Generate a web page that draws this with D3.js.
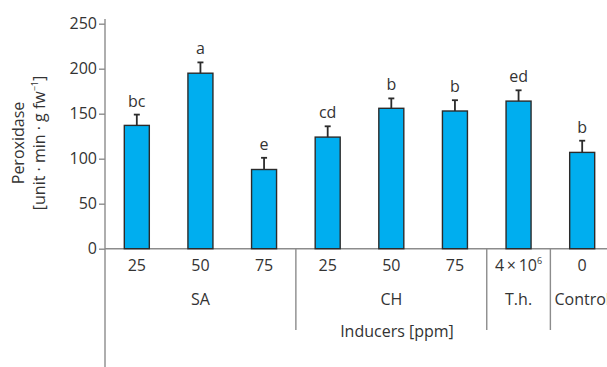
<!DOCTYPE html>
<html>
<head>
<meta charset="utf-8">
<script src="https://cdn.jsdelivr.net/npm/d3@7"></script>
<style>
  html, body { margin: 0; padding: 0; background: #fff; }
  svg { display: block; }
  text { font-family: "Open Sans", "Noto Sans", sans-serif; fill: #333; }
</style>
</head>
<body>
<svg id="chart" width="607" height="367"></svg>
<script>
// Peroxidase activity for each inducer treatment
const categories = ["SA 25", "SA 50", "SA 75", "CH 25", "CH 50", "CH 75", "T.h.", "Control"];
const doseLabels = ["25", "50", "75", "25", "50", "75", "4×10^6", "0"];
const peroxidase = [137, 195, 88, 124, 156, 153, 164, 107];
const errors = [12, 12, 13, 12, 11, 12, 12, 13];
const letters = ["bc", "a", "e", "cd", "b", "b", "ed", "b"];
const groups = ["SA", "CH", "T.h.", "Control"];
const groupSizes = [3, 3, 1, 1];
const yTicks = [0, 50, 100, 150, 200, 250];

const svg = d3.select("#chart");
const axisColor = "#8c8c8c";
const fs = 16;
const x0 = 105, x1 = 614, y0 = 248.7;

const x = d3.scaleBand().domain(categories).range([x0, x1]).paddingInner(0.607).paddingOuter(0.3035);
const y = d3.scaleLinear().domain([0, 250]).range([y0, y0 - 225]);

// y axis
const yAxis = svg.append("g").attr("transform", `translate(${x0},0)`)
  .call(d3.axisLeft(y).tickValues(yTicks).tickSize(6).tickPadding(2));
yAxis.select(".domain").remove();
yAxis.selectAll(".tick line").attr("stroke", axisColor).attr("stroke-width", 1.4);
yAxis.selectAll(".tick text").attr("font-size", fs).attr("fill", "#333")
  .style("font-family", "'Open Sans', sans-serif");
svg.append("line").attr("x1", x0).attr("x2", x0).attr("y1", 19).attr("y2", 367)
  .attr("stroke", axisColor).attr("stroke-width", 1.4);

// baseline
svg.append("line").attr("x1", x0).attr("x2", 607).attr("y1", y0).attr("y2", y0)
  .attr("stroke", axisColor).attr("stroke-width", 1.4);

// bars
svg.append("g").selectAll("rect").data(peroxidase).join("rect")
  .attr("x", (d, i) => x(categories[i]))
  .attr("width", x.bandwidth())
  .attr("y", d => y(d))
  .attr("height", d => y(0) - y(d))
  .attr("fill", "#00aeef")
  .attr("stroke", "#2b2b2b")
  .attr("stroke-width", 1.4);

// error bars (upper half only)
const eb = svg.append("g").attr("stroke", "#2b2b2b").attr("stroke-width", 1.8);
peroxidase.forEach((v, i) => {
  const cx = x(categories[i]) + x.bandwidth() / 2;
  eb.append("line").attr("x1", cx).attr("x2", cx).attr("y1", y(v)).attr("y2", y(v + errors[i]));
  eb.append("line").attr("x1", cx - 3).attr("x2", cx + 3).attr("y1", y(v + errors[i])).attr("y2", y(v + errors[i]));
});

// significance letters
svg.append("g").selectAll("text").data(letters).join("text")
  .attr("x", (d, i) => x(categories[i]) + x.bandwidth() / 2)
  .attr("y", (d, i) => y(peroxidase[i] + errors[i]) - 8)
  .attr("text-anchor", "middle")
  .attr("font-size", fs)
  .text(d => d);

// dose labels under each bar
const dl = svg.append("g");
doseLabels.forEach((t, i) => {
  const cx = x(categories[i]) + x.bandwidth() / 2;
  const txt = dl.append("text").attr("x", cx).attr("y", 271).attr("text-anchor", "middle").attr("font-size", fs);
  if (t.includes("^")) {
    const [base, exp] = t.split("^");
    const [m, b] = base.split("×");
    txt.append("tspan").text(m + "\u2009×\u2009" + b);
    txt.append("tspan").attr("font-size", 9).attr("dy", -7).text(exp);
  } else {
    txt.text(t);
  }
});

// group labels and separators
let start = 0;
const step = x.step();
groups.forEach((g, gi) => {
  const left = x0 + step * start;
  const right = x0 + step * (start + groupSizes[gi]);
  svg.append("text").attr("x", (left + right) / 2).attr("y", 304.5)
    .attr("text-anchor", "middle").attr("font-size", fs).text(g);
  if (gi > 0) {
    svg.append("line").attr("x1", left).attr("x2", left).attr("y1", y0).attr("y2", 330)
      .attr("stroke", axisColor).attr("stroke-width", 1.4);
  }
  start += groupSizes[gi];
});

svg.append("text").attr("x", 397).attr("y", 337).attr("text-anchor", "middle")
  .attr("font-size", fs).text("Inducers [ppm]");

// y axis title
const yt = svg.append("g").attr("transform", "translate(0,143) rotate(-90)");
yt.append("text").attr("x", 0).attr("y", 24).attr("text-anchor", "middle").attr("font-size", fs).text("Peroxidase");
const yt2 = yt.append("text").attr("x", 0).attr("y", 45).attr("text-anchor", "middle").attr("font-size", fs);
yt2.append("tspan").text("[unit · min · g fw");
yt2.append("tspan").attr("font-size", 9).attr("dy", -7).text("−1");
yt2.append("tspan").attr("dy", 7).text("]");
</script>
</body>
</html>
